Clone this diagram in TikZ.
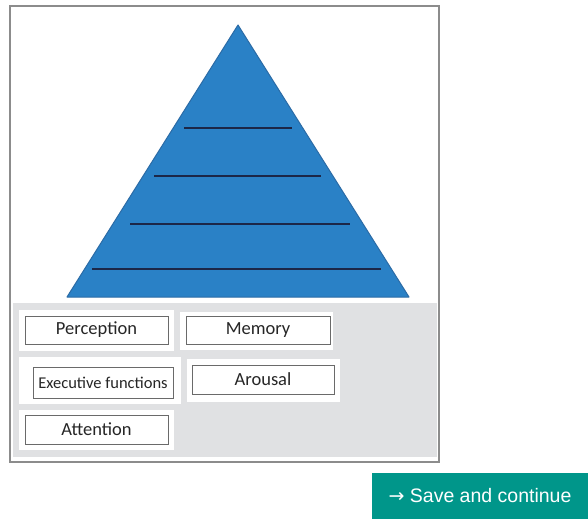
\documentclass[tikz,border=0pt]{standalone}
\usepackage{fontspec}
\setmainfont{Carlito}
\newfontfamily\btnfont{Liberation Sans}
\newfontfamily\arrowfont{DejaVu Sans}
\definecolor{pyr}{HTML}{2A81C6}
\definecolor{pyredge}{HTML}{2B6BA6}
\definecolor{navy}{HTML}{1C2748}
\definecolor{panelgray}{HTML}{E0E1E3}
\definecolor{framegray}{HTML}{8C8C8C}
\definecolor{boxedge}{HTML}{6A6A6A}
\definecolor{teal}{HTML}{00968A}
\begin{document}
\begin{tikzpicture}[x=1pt,y=-1pt,
  panel/.style={fill=white,draw=none},
  label/.style={draw=boxedge,line width=0.9pt,fill=white,inner sep=0pt,font=\fontsize{18.5}{20}\selectfont,text=black!85},
  rung/.style={draw=navy,line width=1.9pt}]
\useasboundingbox (0,0) rectangle (588,519);
% frame
\draw[framegray,line width=1.2pt,fill=white] (10,6) rectangle (439,462);
% gray area
\fill[panelgray] (13,303) rectangle (437,457);
% pyramid
\draw[pyredge,fill=pyr,line width=1pt,line join=round] (238,25) -- (409,297) -- (67,297) -- cycle;
\draw[rung] (184,128) -- (292,128);
\draw[rung] (154,176) -- (321,176);
\draw[rung] (130,224) -- (350,224);
\draw[rung] (92,269) -- (381,269);
% panels
\fill[panel] (19,310) rectangle (174,351);
\fill[panel] (180,312) rectangle (333,350);
\fill[panel] (19,357) rectangle (181,404);
\fill[panel] (187,359) rectangle (340,402);
\fill[panel] (19,410) rectangle (174,450);
% boxes
\node[label,minimum width=143pt,minimum height=28pt] (perc) at (96.5,330) {Perception};
\node[label,minimum width=144pt,minimum height=28pt] (mem) at (258,330) {Memory};
\node[label,minimum width=140pt,minimum height=31pt,font=\fontsize{16.5}{18}\selectfont] (exec) at (103,382.5) {Executive functions};
\node[label,minimum width=142pt,minimum height=29pt] (arou) at (263,379.5) {Arousal};
\node[label,minimum width=143pt,minimum height=29pt] (att) at (96.5,429.5) {Attention};
% button
\node[fill=teal,minimum width=216pt,minimum height=46pt,inner sep=0pt,text=white,font=\btnfont\fontsize{19.5}{22}\selectfont] (btn) at (480,496) {{\arrowfont\fontsize{19}{22}\selectfont →} Save and continue};
\end{tikzpicture}
\end{document}
